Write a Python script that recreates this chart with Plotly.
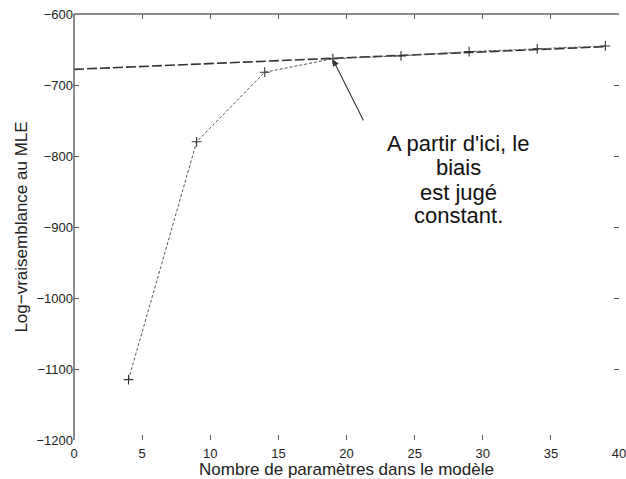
import plotly.graph_objects as go

# Data
params = [4, 9, 14, 19, 24, 29, 34, 39]
loglik = [-1115, -780, -682, -663, -659, -653, -649, -645]

bias_x = [0, 39]
bias_y = [-678, -646]

x_ticks = [0, 5, 10, 15, 20, 25, 30, 35, 40]
y_ticks = [-1200, -1100, -1000, -900, -800, -700, -600]

annot_lines = ["A partir d'ici, le", "biais", "est jugé", "constant."]
annot_x = 28.2
annot_y = [-782, -816, -851, -884]

x_title = "Nombre de paramètres dans le modèle"
y_title = "Log−vraisemblance au MLE"

FONT = "Liberation Sans, Arial, Helvetica, sans-serif"

fig = go.Figure()

fig.add_trace(go.Scatter(
    x=bias_x, y=bias_y, mode="lines",
    line=dict(color="#333333", width=1.6, dash="10px,3px"),
    hoverinfo="skip", showlegend=False,
))

fig.add_trace(go.Scatter(
    x=params, y=loglik, mode="lines+markers",
    line=dict(color="#555555", width=1, dash="3px,2px"),
    marker=dict(symbol="cross-thin", size=7, line=dict(color="#333333", width=1.1)),
    showlegend=False,
))

fig.add_annotation(
    x=19, y=-664, xref="x", yref="y",
    ax=21.3, ay=-752, axref="x", ayref="y",
    showarrow=True, arrowhead=2, arrowsize=1.2, arrowwidth=1.1,
    arrowcolor="#333333", text="",
)

for line, yv in zip(annot_lines, annot_y):
    fig.add_annotation(
        x=annot_x, y=yv, xref="x", yref="y",
        text=line, showarrow=False,
        font=dict(family=FONT, size=22, color="#111111"),
        xanchor="center", yanchor="middle",
    )

# frame: only left and top lines visible in the reference
fig.add_shape(type="line", xref="paper", yref="paper", x0=0, x1=0, y0=0, y1=1,
              line=dict(color="#666666", width=1.5))
fig.add_shape(type="line", xref="paper", yref="paper", x0=0, x1=1, y0=1, y1=1,
              line=dict(color="#666666", width=1.5))

fig.update_layout(
    width=626, height=479,
    margin=dict(l=74, r=7, t=14, b=39),
    plot_bgcolor="white", paper_bgcolor="white",
    font=dict(family=FONT, size=13, color="#222222"),
    xaxis=dict(
        range=[0, 40], tickvals=x_ticks, ticks="inside", ticklen=5,
        tickcolor="#555555", mirror="ticks", showline=False, showgrid=False,
        zeroline=False, tickfont=dict(size=13), ticklabelstandoff=4,
        ticklabeloverflow="allow",
        title=dict(text=x_title, font=dict(size=17), standoff=6),
        automargin=False,
    ),
    yaxis=dict(
        range=[-1200, -600], tickvals=y_ticks, ticks="inside", ticklen=5,
        tickcolor="#555555", mirror="ticks", showline=False, showgrid=False,
        zeroline=False, tickfont=dict(size=13),
        title=dict(text=y_title, font=dict(size=17), standoff=4),
        automargin=False,
    ),
)

fig.write_html(
    "out.html",
    config={"displayModeBar": False},
    post_script="document.body.style.margin='0';document.body.style.overflow='hidden';",
)
